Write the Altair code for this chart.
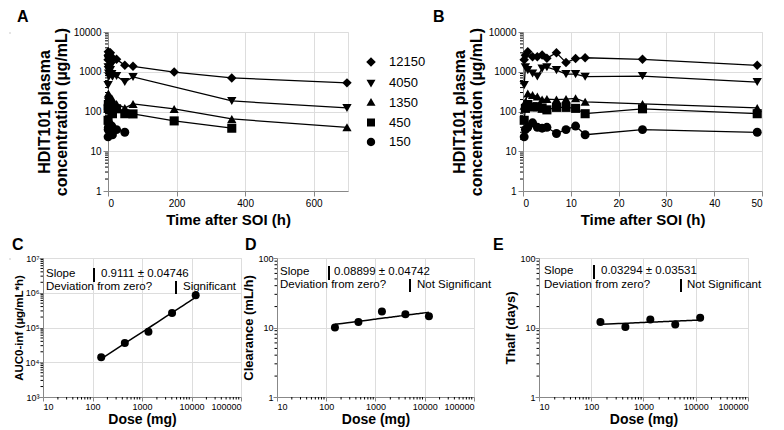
import altair as alt
import pandas as pd

FONT = "Liberation Sans"

# ---------------- data ----------------
doses = ["12150", "4050", "1350", "450", "150"]
times_h = [0.25, 0.5, 1, 2, 3, 4, 5, 7, 9, 11, 13, 25, 49, 73, 193, 361, 697]
conc_12150 = [2000, 2600, 3200, 2400, 2400, 2650, 2200, 3000, 1700, 2150, 2250, 2050, 1450, 1370, 980, 700, 525]
conc_4050 = [460, 1300, 1100, 900, 760, 1200, 1300, 1100, 870, 870, 750, 780, 550, 740, None, 184, 123]
conc_1350 = [140, 175, 285, 260, 240, 200, 205, 200, 205, 215, 175, 155, 123, 155, 116, 65, 40]
conc_450 = [60, 120, 150, 130, 132, 120, 110, 127, 127, 120, 88, 117, 88, 87, 58, 38, None]
conc_150 = [23, 35, 40, 52, 40, 38, 40, 28, 35, 43, 26, 35, 30, None, None, None, None]
series = [conc_12150, conc_4050, conc_1350, conc_450, conc_150]

dose_mg = [150, 450, 1350, 4050, 12150]
auc = [1.4e4, 3.6e4, 7.5e4, 2.6e5, 8.5e5]
clearance = [10.0, 12.0, 17.0, 15.5, 14.5]
thalf = [12.0, 10.2, 13.0, 11.0, 13.8]

slope_texts = ["0.9111 ± 0.04746", "0.08899 ± 0.04742", "0.03294 ± 0.03531"]
sig_texts = ["Significant", "Not Significant", "Not Significant"]

shapes = ["diamond", "triangle-down", "triangle-up", "square", "circle"]
shape_sizes = [90, 80, 80, 64, 60]
legend_paths = [
    "M-1,0H1M0,-0.48L0.48,0L0,0.48L-0.48,0Z",
    "M-1,0H1M-0.45,-0.28H0.45L0,0.5Z",
    "M-1,0H1M-0.45,0.28H0.45L0,-0.5Z",
    "M-1,0H1M-0.4,-0.4H0.4V0.4H-0.4Z",
    "M-1,0H1M-0.42,0A0.42,0.42,0,1,1,0.42,0A0.42,0.42,0,1,1,-0.42,0Z",
]

rows = []
for d, s in zip(doses, series):
    for t, c in zip(times_h, s):
        if c is not None:
            rows.append({"dose": d, "time": t, "conc": c})
pk = pd.DataFrame(rows)
pk_b = pk[pk["time"] <= 50]


def minor_vals(e0, e1):
    return [m * 10 ** k for k in range(e0, e1) for m in range(2, 10)]


def one():
    return pd.DataFrame({"t": [0]})


def text_at(s, x, y, size=11.5):
    return alt.Chart(one()).mark_text(
        text=s, align="left", baseline="middle", font=FONT, fontSize=size,
        fontWeight="normal", color="black"
    ).encode(x=alt.value(x), y=alt.value(y))


def letter_at(s, x, y):
    return alt.Chart(one()).mark_text(
        text=s, align="left", baseline="alphabetic", font=FONT, fontSize=16,
        fontWeight="bold", color="black"
    ).encode(x=alt.value(x), y=alt.value(y))


def vbar(x, y1, y2):
    return alt.Chart(one()).mark_rule(color="black", strokeWidth=2).encode(
        x=alt.value(x), y=alt.value(y1), y2=alt.value(y2))


def spacer():
    # empty cell that anchors the left edge of each row
    return alt.Chart(one()).mark_rule(opacity=0).encode(
        x=alt.value(0), x2=alt.value(0), y=alt.value(0)).properties(width=1, height=1)


# ---------------- PK panels ----------------
H_TOP = 159


def pk_panel(df, xdomain, xvalues, width, letter, lx, legend=False):
    yscale = alt.Scale(type="log", domain=[1, 10000], nice=False)
    xscale = alt.Scale(domain=xdomain, nice=False, zero=False)
    xax = alt.Axis(values=xvalues, format="d", title="Time after SOI (h)",
                   titleFontSize=15, titlePadding=4, labelFontSize=10)
    yax = alt.Axis(values=[1, 10, 100, 1000, 10000], format="d",
                   title=["HDIT101 plasma", "concentration (µg/mL)"],
                   titleFontSize=16, titleLineHeight=17, titlePadding=4,
                   labelFontSize=10)
    X = alt.X("time:Q", scale=xscale, axis=xax)
    Y = alt.Y("conc:Q", scale=yscale, axis=yax)
    minor = alt.Chart(pd.DataFrame({"conc": minor_vals(0, 4)})).mark_rule(
        color="black", strokeWidth=1).encode(y=Y, x=alt.value(0), x2=alt.value(-3))
    base = alt.Chart(df)
    lines = base.mark_line(color="black", strokeWidth=1.3).encode(x=X, y=Y, detail="dose:N")
    pts = base.mark_point(filled=True, opacity=1, color="black").encode(
        x=X, y=Y,
        shape=alt.Shape("dose:N", scale=alt.Scale(domain=doses, range=shapes), legend=None),
        size=alt.Size("dose:N", scale=alt.Scale(domain=doses, range=shape_sizes), legend=None))
    layers = [minor, lines, pts]
    if legend:
        leg = base.mark_point(filled=True, opacity=0, color="black", size=400).encode(
            x=X, y=Y,
            shape=alt.Shape("dose:N", scale=alt.Scale(domain=doses, range=legend_paths),
                            legend=alt.Legend(title=None, orient="none", legendX=252, legendY=19,
                                              symbolSize=400, symbolOpacity=1,
                                              symbolStrokeColor="black", symbolStrokeWidth=1.5,
                                              symbolFillColor="black",
                                              labelFont=FONT, labelFontSize=13, labelColor="black",
                                              labelFontWeight="normal", labelOffset=7,
                                              rowPadding=1.5, padding=0)))
        layers.append(leg)
    layers.append(letter_at(letter, lx, -10))
    ch = alt.layer(*layers).resolve_scale(shape="independent", size="independent")
    return ch.properties(width=width, height=H_TOP)


panel_a = pk_panel(pk, [0, 700], [0, 200, 400, 600], 240, "A", -91, legend=True)
panel_b = pk_panel(pk_b, [0, 50], [0, 10, 20, 30, 40, 50], 239, "B", -90)


# ---------------- dose panels ----------------
H_BOT = 139


def dose_panel(values, ydomain, e0, e1, ylabel_expr, ytitle, ytitle_size, ytitle_pad, width,
               letter, lx, slope, sig, ny1, ny2, nx):
    height = H_BOT
    df = pd.DataFrame({"dose": dose_mg, "val": values})
    xscale = alt.Scale(type="log", domain=[10, 100000], nice=False)
    yscale = alt.Scale(type="log", domain=ydomain, nice=False)
    xax = alt.Axis(values=[10, 100, 1000, 10000, 100000], format="d", title="Dose (mg)",
                   titleFontSize=14, titlePadding=1, labelFontSize=9, tickSize=4,
                   labelPadding=1)
    yvals = [10 ** k for k in range(e0, e1 + 1)]
    yax = alt.Axis(values=yvals, labelExpr=ylabel_expr, title=ytitle,
                   titleFontSize=ytitle_size, titlePadding=ytitle_pad, labelFontSize=9,
                   tickSize=4, labelPadding=0)
    X = alt.X("dose:Q", scale=xscale, axis=xax)
    Y = alt.Y("val:Q", scale=yscale, axis=yax)
    yminor = alt.Chart(pd.DataFrame({"val": minor_vals(e0, e1)})).mark_rule(
        color="black", strokeWidth=1).encode(y=Y, x=alt.value(0), x2=alt.value(-2.5))
    xminor = alt.Chart(pd.DataFrame({"dose": minor_vals(1, 5)})).mark_rule(
        color="black", strokeWidth=1).encode(x=X, y=alt.value(height), y2=alt.value(height + 2.5))
    base = alt.Chart(df)
    reg = base.transform_regression("dose", "val", method="pow").mark_line(
        color="black", strokeWidth=1.5).encode(x=X, y=Y)
    pts = base.mark_point(filled=True, opacity=1, color="black", size=64, shape="circle").encode(
        x=X, y=Y)
    x1, b1, v1, b2, s2 = nx
    notes = [
        text_at("Slope", x1, ny1), vbar(b1, ny1 - 6, ny1 + 8), text_at(slope, v1, ny1),
        text_at("Deviation from zero?", x1, ny2), vbar(b2, ny2 - 6, ny2 + 7), text_at(sig, s2, ny2),
    ]
    layers = [yminor, xminor, reg, pts] + notes + [letter_at(letter, lx, -8)]
    return alt.layer(*layers).properties(width=width, height=height)


sup = "['⁰','¹','²','³','⁴','⁵','⁶','⁷','⁸'][round(log(datum.value)/LN10)]"
panel_c = dose_panel(auc, [1e3, 1e7], 3, 7, "'10' + " + sup, "AUC0-inf (µg/mL*h)", 11.5, 1,
                     198, "C", -31, slope_texts[0], sig_texts[0], 16, 29,
                     (3, 51, 58, 133, 140))
panel_d = dose_panel(clearance, [1, 100], 0, 2, "format(datum.value, 'd')", "Clearance (mL/h)", 13, 2,
                     197, "D", -32, slope_texts[1], sig_texts[1], 14, 27,
                     (3, 52, 57, 133, 140))
panel_e = dose_panel(thalf, [1, 100], 0, 2, "format(datum.value, 'd')", "Thalf (days)", 13, 2,
                     209, "E", -46, slope_texts[2], sig_texts[2], 13, 27,
                     (5, 55, 62, 142, 148))

top = alt.hconcat(spacer(), panel_a, panel_b, spacing=5)
bottom = alt.hconcat(spacer(), panel_c, panel_d, panel_e, spacing=0)

chart = alt.vconcat(top, bottom, spacing=8).properties(
    padding={"left": 0, "top": 0, "right": 0, "bottom": 0}
).configure_view(strokeWidth=0, strokeOpacity=0).configure_axis(
    domainColor="black", domainWidth=1.5, tickColor="black", tickWidth=1.5, tickSize=5,
    labelColor="black", titleColor="black", labelFont=FONT, titleFont=FONT,
    labelFontWeight="bold", titleFontWeight="bold", grid=False,
    labelFlush=False, labelOverlap=False
).configure(background="white")

chart.save("out.html", embed_options={"renderer": "svg", "actions": False})
